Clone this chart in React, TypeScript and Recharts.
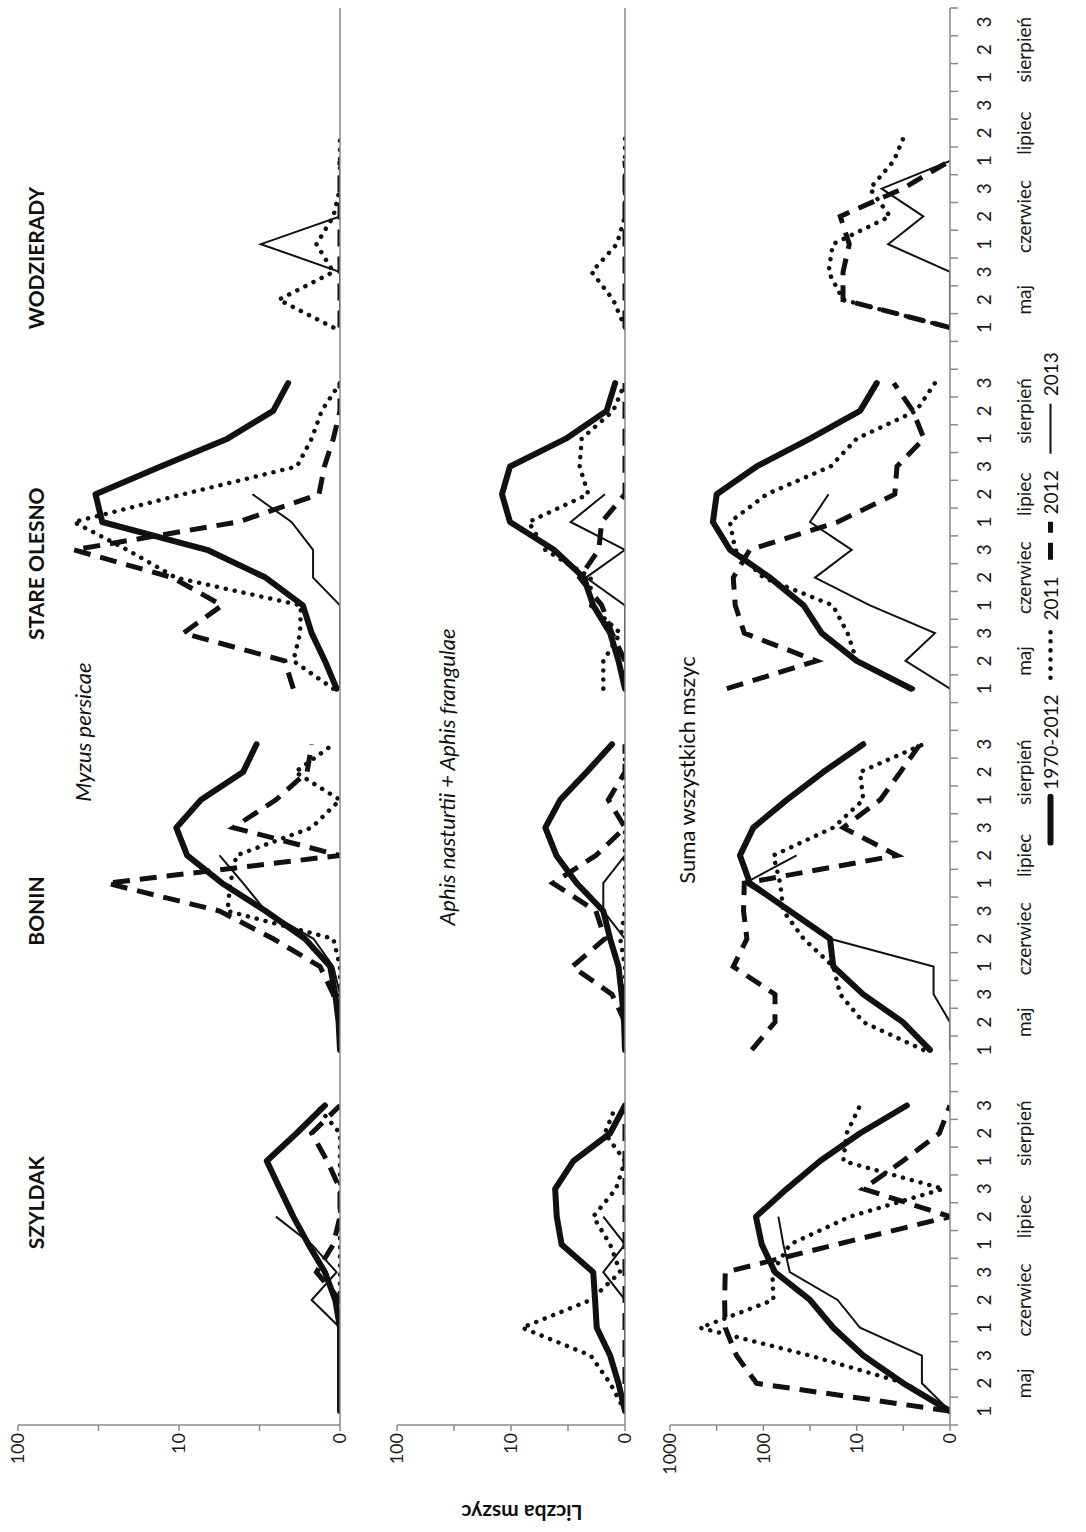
import { LineChart, Line, XAxis, YAxis } from "recharts";

// page size; the figure itself is laid out landscape and turned a quarter turn like the scan
const PAGE_W = 1086;
const PAGE_H = 1532;
const FIG_W = PAGE_H;
const FIG_H = PAGE_W;

const PLOT_LEFT = 107;
const PLOT_RIGHT = 8;

const AXIS = "#8a8a8a";
const INK = "#111";
const FONT = "Lato, 'Open Sans', sans-serif";

const SITES = ["SZYLDAK", "BONIN", "STARE OLESNO", "WODZIERADY"];
const MONTHS = ["maj", "czerwiec", "lipiec", "sierpień"];
const DECADES = ["1", "2", "3"];

const SERIES = [
  { key: "lt", name: "1970-2012" },
  { key: "y2011", name: "2011" },
  { key: "y2012", name: "2012" },
  { key: "y2013", name: "2013" },
];

const N = null;

// Myzus persicae — one row of 12 decades (maj 1 .. sierpień 3) per site
const MYZUS_LT = [
  [0, 0, 0, 0, 1.07, 1.24, 1.57, 1.95, 2.36, 2.85, 1.86, 1.24],
  [0, 1.02, 1.07, 1.15, 1.65, 2.9, 5.4, 8.9, 10.4, 7.3, 4.0, 3.3],
  [1.05, 1.24, 1.5, 1.7, 2.9, 6.7, 30, 33, 13, 5, 2.6, 2.1],
  [N, N, N, N, N, N, N, N, N, N, N, N],
];
const MYZUS_2011 = [
  [0, 0, 0, 0, 0, 0, 0, 0, 0, 0, 0, 1.4],
  [0, 0, 0, 0, 1.1, 5.0, 4.8, 4.4, 1.5, 0, 1.9, 1.1],
  [1.1, 1.95, 1.77, 1.75, 10.5, 21, 45, 9.4, 1.85, 1.5, 1.3, 0],
  [1.1, 2.4, 1.1, 1.4, 1.1, 0, 0, 0, N, N, N, N],
];
const MYZUS_2012 = [
  [0, 0, 0, 0, 0, 1.4, 1.1, 0, 0, 1.2, 1.5, 0],
  [0, 0, 1.1, 1.33, 2.6, 5.6, 28, 0, 4.6, 2.5, 1.6, 1.5],
  [1.95, 2.2, 9.4, 5.4, 11, 45, 4.3, 1.35, 1.25, 1.1, 0, 0],
  [0, 0, 0, 0, 0, 0, 0, N, N, N, N, N],
];
const MYZUS_2013 = [
  [0, 0, 0, 0, 1.5, 1.05, 1.5, 2.5, N, N, N, N],
  [0, 0, 0, 1.1, 1.46, 2.9, 4.0, 5.6, N, N, N, N],
  [0, 0, 0, 0, 1.47, 1.47, 2.0, 3.5, N, N, N, N],
  [0, 0, 0, 3.1, 0, 0, 0, N, N, N, N, N],
];

// Aphis nasturtii + Aphis frangulae
const APHIS_LT = [
  [0, 1.14, 1.35, 1.77, 1.83, 1.9, 3.6, 3.97, 4.1, 2.84, 1.35, 0],
  [0, 1.02, 1.07, 1.14, 1.35, 1.55, 2.65, 4.0, 5.0, 3.7, 2.17, 1.3],
  [0, 1.14, 1.35, 1.9, 2.3, 4.2, 10.2, 12, 10.2, 3.3, 1.45, 1.22],
  [N, N, N, N, N, N, N, N, N, N, N, N],
];
const APHIS_2011 = [
  [0, 1.35, 2.0, 8.0, 2.0, 1.1, 1.35, 1.9, 1.2, 0, 1.5, 1.2],
  [0, 0, 0, 0, 1.1, 0, 0, 0, 0, 0, 0, 0],
  [1.55, 1.55, 1.1, 2.0, 2.0, 5.0, 7.0, 2.1, 2.5, 2.4, 1.27, 0],
  [0, 1.27, 1.96, 1.18, 0, 0, 0, 0, N, N, N, N],
];
const APHIS_2012 = [
  [0, 0, 0, 0, 0, 0, 0, 0, 0, 0, 0, 0],
  [0, 0, 1.3, 2.9, 1.5, 1.8, 4.3, 1.8, 1.0, 1.4, 0, 0],
  [0, 0, 1.3, 1.6, 2.5, 1.7, 1.6, 0, 0, 0, 0, 0],
  [0, 0, 0, 0, 0, 0, 0, N, N, N, N, N],
];
const APHIS_2013 = [
  [0, 0, 0, 0, 0, 1.55, 0, 1.55, N, N, N, N],
  [0, 0, 0, 0, 0, 1.55, 1.55, 0, N, N, N, N],
  [0, 0, 0, 0, 2.2, 0, 3.0, 1.5, N, N, N, N],
  [0, 0, 0, 0, 0, 0, 0, N, N, N, N, N],
];

// Suma wszystkich mszyc
const SUMA_LT = [
  [0, 3.16, 8.5, 17.8, 31.6, 75, 104, 120, 56, 24.7, 9.2, 2.9],
  [1.64, 3.2, 8.5, 17.8, 19.3, 52, 139, 178, 128, 56, 22.8, 8.5],
  [2.6, 10, 23.7, 37, 85, 228, 347, 316, 118, 31.6, 9.2, 6.1],
  [N, N, N, N, N, N, N, N, N, N, N, N],
];
const SUMA_2011 = [
  [0, 3.0, 31.6, 476, 78, 80, 52, 11.8, 1.18, 13.9, 12.8, 9.2],
  [1.93, 8.5, 15, 17.8, 37, 61, 66, 78, 17.8, 8.5, 9.2, 1.93],
  [2.5, 10, 12.5, 18, 100, 200, 228, 92, 19, 10, 2.3, 1.45],
  [0, 14, 20, 18, 4.4, 7.2, 4.0, 3.0, N, N, N, N],
];
const SUMA_2012 = [
  [0, 118, 194, 256, 260, 256, 16.3, 0, 8.5, 3.2, 1.3, 0],
  [133, 75, 75, 210, 150, 163, 160, 3.7, 13.9, 5.6, 3.4, 2.1],
  [246, 27, 160, 200, 210, 140, 16, 3.9, 3.7, 1.9, 2.5, 4.0],
  [0, 14, 14, 12, 15, 3.2, 1.0, N, N, N, N, N],
];
const SUMA_2013 = [
  [0, 2.0, 2.0, 9.2, 16, 52, 61, 69, N, N, N, N],
  [0, 0, 1.5, 1.5, 19.3, 52, 158, 44, N, N, N, N],
  [0, 3.0, 1.45, 7.2, 28, 11.3, 31.6, 20, N, N, N, N],
  [0, 0, 0, 4.6, 1.93, 5.4, 0, N, N, N, N, N],
];

type Cat = { id: string; site: number | null; idx: number; decade: string; month: string };

// 4 sites x 12 decades, with one empty slot between sites
const CATS: Cat[] = [];
SITES.forEach((_, s) => {
  MONTHS.forEach((m, mi) =>
    DECADES.forEach((d, di) => CATS.push({ id: `${s}-${mi}-${di}`, site: s, idx: mi * 3 + di, decade: d, month: m }))
  );
  if (s < SITES.length - 1) CATS.push({ id: `gap-${s}`, site: null, idx: -1, decade: "", month: "" });
});
const CAT_BY_ID: Record<string, Cat> = Object.fromEntries(CATS.map((c) => [c.id, c]));
const BW = (FIG_W - PLOT_LEFT - PLOT_RIGHT) / CATS.length;

// log axis: zero counts sit on the "0" line at the bottom of each panel
function buildRows(series: Record<string, (number | null)[][]>) {
  return CATS.map((c) => {
    const row: Record<string, string | number | null> = { id: c.id };
    for (const k of Object.keys(series)) {
      const v = c.site === null ? null : series[k][c.site][c.idx];
      row[k] = v === null || v === undefined ? null : Math.max(v, 1);
    }
    return row;
  });
}

const ROWS_MYZUS = buildRows({ lt: MYZUS_LT, y2011: MYZUS_2011, y2012: MYZUS_2012, y2013: MYZUS_2013 });
const ROWS_APHIS = buildRows({ lt: APHIS_LT, y2011: APHIS_2011, y2012: APHIS_2012, y2013: APHIS_2013 });
const ROWS_SUMA = buildRows({ lt: SUMA_LT, y2011: SUMA_2011, y2012: SUMA_2012, y2013: SUMA_2013 });

const LINE_STYLE: Record<string, any> = {
  lt: { strokeWidth: 6, strokeLinejoin: "round", strokeLinecap: "round" },
  y2011: { strokeWidth: 4.5, strokeDasharray: "0.1 9", strokeLinecap: "round" },
  y2012: { strokeWidth: 5, strokeDasharray: "17 10" },
  y2013: { strokeWidth: 2, strokeLinejoin: "miter" },
};

const halfDecades = (max: number) =>
  Array.from({ length: Math.round(Math.log10(max)) * 2 + 1 }, (_, i) => Math.pow(10, i / 2));

const fmtLog = (v: number) => {
  const l = Math.log10(v);
  if (Math.abs(l - Math.round(l)) > 1e-6) return "";
  return v === 1 ? "0" : String(Math.round(v));
};

function CategoryTick(props: any) {
  const { x, y, payload, index } = props;
  const c = CAT_BY_ID[payload.value];
  const left = x - BW / 2;
  return (
    <g>
      <line x1={left} x2={left} y1={y} y2={y + 8} stroke={AXIS} strokeWidth={1.5} />
      {index === CATS.length - 1 && (
        <line x1={x + BW / 2} x2={x + BW / 2} y1={y} y2={y + 8} stroke={AXIS} strokeWidth={1.5} />
      )}
      <text x={x} y={y + 33} textAnchor="middle" dominantBaseline="central" fontSize={19} fill="#1a1a1a">
        {c ? c.decade : ""}
      </text>
      {c && c.decade === "2" && (
        <text x={x} y={y + 73} textAnchor="middle" dominantBaseline="central" fontSize={19} fill="#1a1a1a">
          {c.month}
        </text>
      )}
    </g>
  );
}

function Panel({
  rows,
  top,
  height,
  marginTop,
  marginBottom,
  max,
  bottomAxis,
}: {
  rows: any[];
  top: number;
  height: number;
  marginTop: number;
  marginBottom: number;
  max: number;
  bottomAxis: boolean;
}) {
  return (
    <div style={{ position: "absolute", left: 0, top }}>
      <LineChart
        width={FIG_W}
        height={height}
        data={rows}
        margin={{ top: marginTop, right: PLOT_RIGHT, bottom: marginBottom, left: 0 }}
      >
        {bottomAxis ? (
          <XAxis
            dataKey="id"
            interval={0}
            height={136}
            tickSize={0}
            tickMargin={0}
            tickLine={false}
            axisLine={{ stroke: AXIS, strokeWidth: 1.5 }}
            tick={<CategoryTick />}
            padding={{ left: BW / 2, right: BW / 2 }}
          />
        ) : (
          <XAxis
            dataKey="id"
            height={1}
            tick={false}
            tickLine={false}
            axisLine={{ stroke: AXIS, strokeWidth: 1.5 }}
            padding={{ left: BW / 2, right: BW / 2 }}
          />
        )}
        <YAxis
          width={PLOT_LEFT}
          type="number"
          scale="log"
          domain={[1, max]}
          allowDataOverflow
          ticks={halfDecades(max)}
          interval={0}
          tickFormatter={fmtLog}
          tick={{ fill: "#1a1a1a", fontSize: 18 }}
          tickLine={{ stroke: AXIS, strokeWidth: 1.5 }}
          axisLine={{ stroke: AXIS, strokeWidth: 1.5 }}
        />
        {SERIES.map((s) => (
          <Line
            key={s.key}
            type="linear"
            dataKey={s.key}
            name={s.name}
            stroke={INK}
            dot={false}
            activeDot={false}
            connectNulls={false}
            isAnimationActive={false}
            {...LINE_STYLE[s.key]}
          />
        ))}
      </LineChart>
    </div>
  );
}

const catX = (i: number) => PLOT_LEFT + (i + 0.5) * BW;

function Label({ x, y, children, style }: { x: number; y: number; children: any; style?: any }) {
  return (
    <div
      style={{
        position: "absolute",
        left: x,
        top: y,
        transform: "translate(-50%, -50%)",
        whiteSpace: "nowrap",
        color: "#111",
        ...style,
      }}
    >
      {children}
    </div>
  );
}

function Swatch({ k, w }: { k: string; w: number }) {
  return (
    <svg width={w} height={12} style={{ display: "block" }}>
      <line x1={3} x2={w - 3} y1={6} y2={6} stroke={INK} {...LINE_STYLE[k]} />
    </svg>
  );
}

const SWATCH_W: Record<string, number> = { lt: 52, y2011: 56, y2012: 44, y2013: 56 };

export default function App() {
  return (
    <div
      style={{
        position: "absolute",
        left: 0,
        top: 0,
        width: PAGE_W,
        height: PAGE_H,
        overflow: "hidden",
        background: "#fff",
        fontFamily: FONT,
      }}
    >
      <div
        style={{
          position: "absolute",
          left: 0,
          top: 0,
          width: FIG_W,
          height: FIG_H,
          transformOrigin: "0 0",
          transform: `translateY(${PAGE_H}px) rotate(-90deg)`,
        }}
      >
        <Panel rows={ROWS_MYZUS} top={0} height={360} marginTop={18} marginBottom={19} max={100} bottomAxis={false} />
        <Panel rows={ROWS_APHIS} top={360} height={285} marginTop={37} marginBottom={19} max={100} bottomAxis={false} />
        <Panel rows={ROWS_SUMA} top={645} height={441} marginTop={25} marginBottom={0} max={1000} bottomAxis />

        <Label x={catX(7.5)} y={35} style={{ fontWeight: 700, fontSize: 21 }}>SZYLDAK</Label>
        <Label x={catX(18)} y={35} style={{ fontWeight: 700, fontSize: 21 }}>BONIN</Label>
        <Label x={catX(30.5)} y={35} style={{ fontWeight: 700, fontSize: 21 }}>STARE OLESNO</Label>
        <Label x={catX(41.5)} y={35} style={{ fontWeight: 700, fontSize: 21 }}>WODZIERADY</Label>

        <Label x={800} y={82} style={{ fontStyle: "italic", fontSize: 22 }}>Myzus persicae</Label>
        <Label x={755} y={446} style={{ fontStyle: "italic", fontSize: 22 }}>
          Aphis nasturtii + Aphis frangulae
        </Label>
        <Label x={762} y={686} style={{ fontSize: 22 }}>Suma wszystkich mszyc</Label>

        <Label x={19} y={522} style={{ fontWeight: 700, fontSize: 21, transform: "translate(-50%, -50%) rotate(-90deg)" }}>
          Liczba mszyc
        </Label>

        <div
          style={{
            position: "absolute",
            left: 933,
            top: 1050,
            transform: "translate(-50%, -50%)",
            display: "flex",
            alignItems: "center",
            gap: 14,
            fontSize: 19,
            color: "#111",
            whiteSpace: "nowrap",
          }}
        >
          {SERIES.map((s) => (
            <div key={s.key} style={{ display: "flex", alignItems: "center", gap: 4 }}>
              <Swatch k={s.key} w={SWATCH_W[s.key]} />
              <span>{s.name}</span>
            </div>
          ))}
        </div>
      </div>
    </div>
  );
}
